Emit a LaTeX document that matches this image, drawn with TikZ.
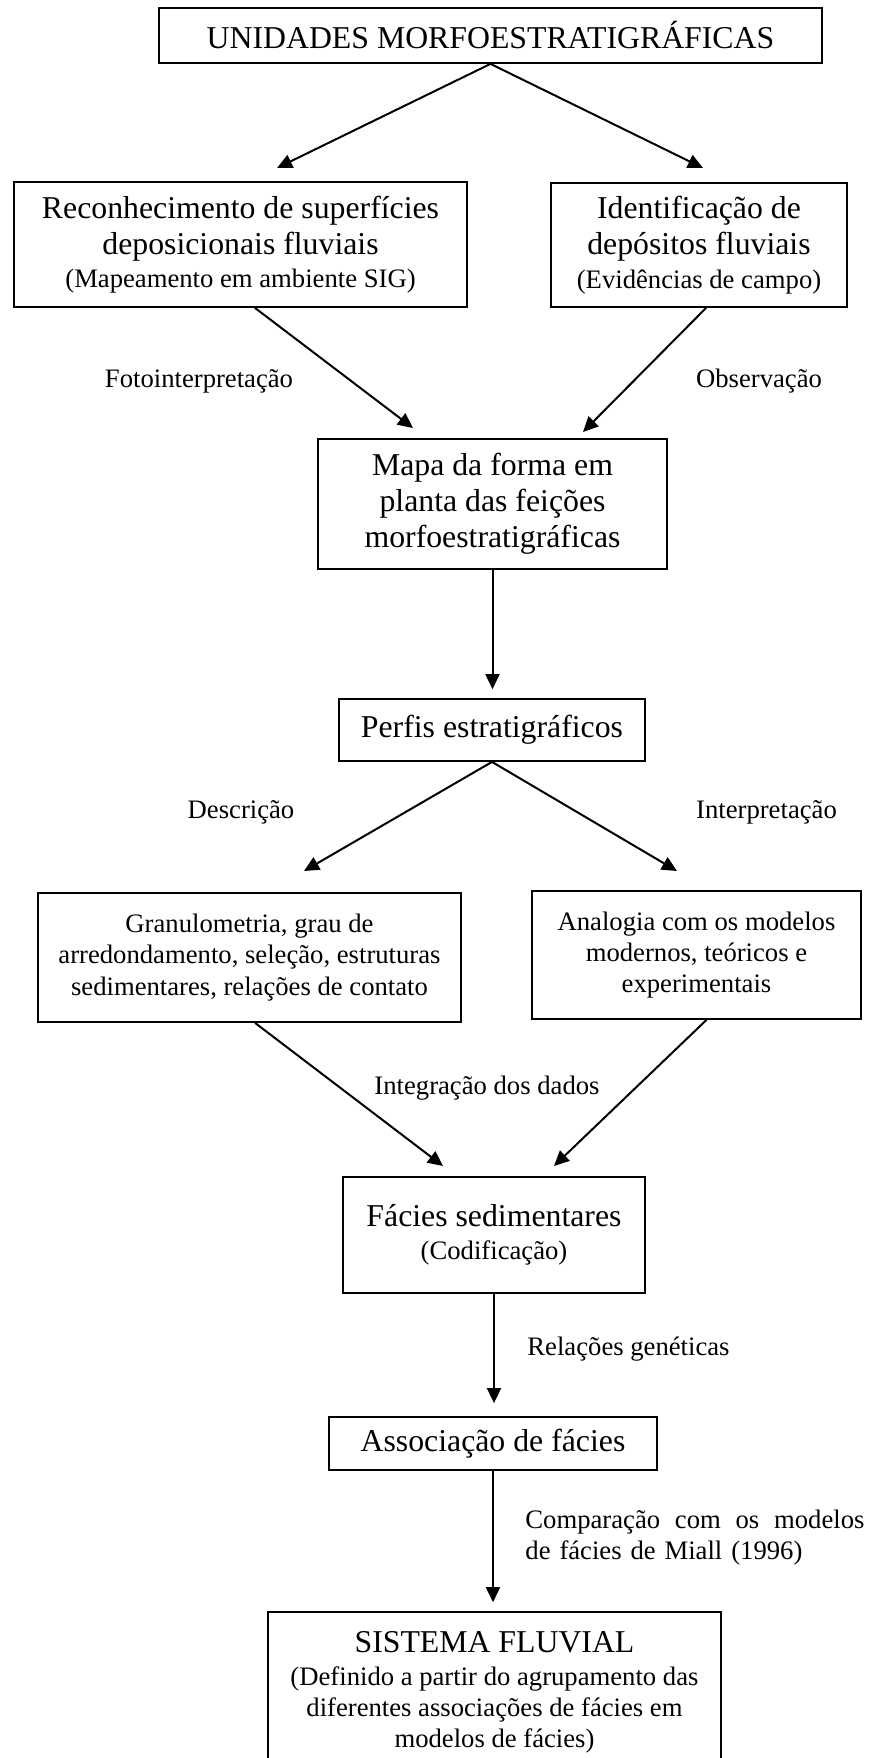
\documentclass[tikz,border=0pt]{standalone}
\usepackage{fontspec}
\setmainfont{Liberation Serif}
\usetikzlibrary{arrows.meta}
\newcommand{\letragrande}{\fontsize{14.3}{16.2}\selectfont}
\newcommand{\letrapequena}{\fontsize{12}{14}\selectfont}

\begin{document}
\begin{tikzpicture}[x=0.45pt,y=-0.45pt,
  caixa/.style={draw,line width=0.8pt,inner sep=0pt,align=center},
  seta/.style={line width=0.9pt,-{Triangle[length=6.8pt,width=6.3pt]}},
  rotulo/.style={inner sep=0pt,font=\letrapequena}]
\useasboundingbox (0,0) rectangle (871,1758);
\clip (0,0) rectangle (871,1758);

\node[caixa,minimum width=298.4pt,minimum height=24.75pt,font=\letragrande] (unid) at (490.5,35.5) {UNIDADES MORFOESTRATIGRÁFICAS};
\node[caixa,minimum width=203.9pt,minimum height=56.25pt,font=\letragrande] (reco) at (240.5,244.5) {Reconhecimento de superfícies\\deposicionais fluviais\\[-1.2pt]{\letrapequena (Mapeamento em ambiente SIG)}};
\node[caixa,minimum width=133.2pt,minimum height=55.8pt,font=\letragrande] (ident) at (699,245) {Identificação de\\depósitos fluviais\\[-1.2pt]{\letrapequena (Evidências de campo)}};
\node[caixa,minimum width=157.05pt,minimum height=58.5pt,font=\letragrande] (mapa) at (492.5,504) {Mapa da forma em\\planta das feições\\morfoestratigráficas};
\node[caixa,minimum width=137.7pt,minimum height=27.9pt,font=\letragrande] (perfis) at (492,730) {Perfis estratigráficos};
\node[caixa,minimum width=190.35pt,minimum height=58.05pt,font=\letrapequena] (granul) at (249.5,957.5) {Granulometria, grau de\\arredondamento, seleção, estruturas\\sedimentares, relações de contato};
\node[caixa,minimum width=148.05pt,minimum height=57.6pt,font=\letrapequena] (analog) at (696.5,955) {Analogia com os modelos\\modernos, teóricos e\\experimentais};
\node[caixa,minimum width=135.9pt,minimum height=52.2pt,font=\letragrande] (facies) at (494,1235) {Fácies sedimentares\\[-1.35pt]{\letrapequena (Codificação)}};
\node[caixa,minimum width=147.6pt,minimum height=23.85pt,font=\letragrande] (assoc) at (493,1443.5) {Associação de fácies};
\node[caixa,minimum width=203.85pt,minimum height=72pt,font=\letrapequena] (sistema) at (494.5,1692) {{\letragrande SISTEMA FLUVIAL}\\[0.9pt](Definido a partir do agrupamento das\\diferentes associações de fácies em\\modelos de fácies)};

\node[rotulo,anchor=base] (foto) at (199,387) {Fotointerpretação};
\node[rotulo,anchor=base] (obs) at (759,387) {Observação};
\node[rotulo,anchor=base] (desc) at (241,818) {Descrição};
\node[rotulo,anchor=base] (interp) at (766.5,818) {Interpretação};
\node[rotulo,anchor=base] (integ) at (487,1094) {Integração dos dados};
\node[rotulo,anchor=base west] (relac) at (527,1355) {Relações genéticas};
\node[rotulo,anchor=base west,text width=152.55pt,align=left] (comp) at (525,1528) {Comparação\hfill com\hfill os\hfill modelos\\de fácies de Miall (1996)};

\coordinate (p1) at (277,168);
\coordinate (p2) at (703,168);
\coordinate (p3) at (413,428);
\coordinate (p4) at (583,432);
\coordinate (p5) at (304,871);
\coordinate (p6) at (677,871);
\coordinate (p7) at (443,1166);
\coordinate (p8) at (554,1166);

\draw[seta] (unid.south) -- (p1);
\draw[seta] (unid.south) -- (p2);
\draw[seta] ([xshift=6.5pt]reco.south) -- (p3);
\draw[seta] ([xshift=3.2pt]ident.south) -- (p4);
\draw[seta,shorten >=4pt] (mapa.south) -- (mapa.south |- perfis.north);
\draw[seta] (perfis.south) -- (p5);
\draw[seta] (perfis.south) -- (p6);
\draw[seta] ([xshift=2.5pt]granul.south) -- (p7);
\draw[seta] ([xshift=4.5pt]analog.south) -- (p8);
\draw[seta,shorten >=5.85pt] (facies.south) -- (facies.south |- assoc.north);
\draw[seta,shorten >=4pt] (assoc.south) -- (assoc.south |- sistema.north);
\end{tikzpicture}
\end{document}
